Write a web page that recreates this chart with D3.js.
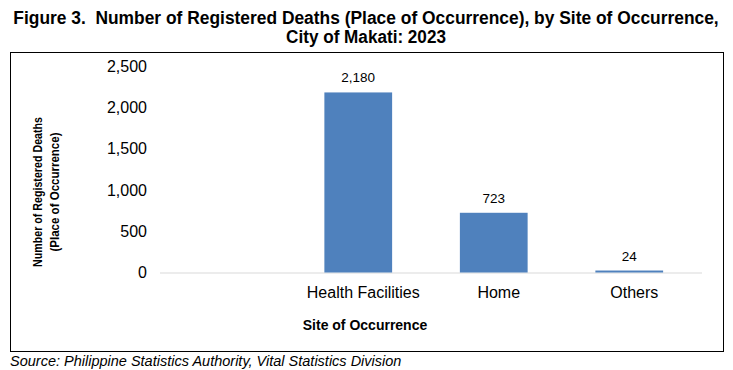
<!DOCTYPE html>
<html>
<head>
<meta charset="utf-8">
<script src="https://cdn.jsdelivr.net/npm/d3@7"></script>
<style>
    body { margin: 0; background: #fff; }
    svg { display: block; font-family: "Liberation Sans", Arial, sans-serif; }
    text { white-space: pre; }
</style>
</head>
<body>
<div id="chart"></div>
<script>
// DATA //
// first slot is an empty category, the original chart leaves it blank
const categories = ["", "Health Facilities", "Home", "Others"]
const deaths = [null, 2180, 723, 24]
const yTicks = [0, 500, 1000, 1500, 2000, 2500]

const titleLines = [
    "Figure 3.  Number of Registered Deaths (Place of Occurrence), by Site of Occurrence,",
    "City of Makati: 2023"
]
const yTitleLines = ["Number of Registered Deaths", "(Place of Occurrence)"]
const xTitle = "Site of Occurrence"
const sourceNote = "Source: Philippine Statistics Authority, Vital Statistics Division"

// Set dimensions
let dimensions = {
    width: 733,
    height: 370,
    plot: { left: 155, right: 697, top: 66, bottom: 272.5 },
}

const svg = d3.select("#chart")
    .append("svg")
    .attr("width", dimensions.width)
    .attr("height", dimensions.height)

// Scales
const xScale = d3.scaleBand()
    .domain(categories.map((d, i) => i))
    .range([dimensions.plot.left, dimensions.plot.right])
    .paddingInner(0.5)
    .paddingOuter(0.25)

const yScale = d3.scaleLinear()
    .domain([0, 2500])
    .range([dimensions.plot.bottom, dimensions.plot.top])

// squeeze a text horizontally so it reads like a narrow font
function squeeze(sel, targetWidth, cx, y) {
    const natural = sel.node().getComputedTextLength()
    const sx = Math.min(1, targetWidth / natural)
    sel.attr("x", 0).attr("y", 0)
        .attr("transform", `translate(${cx}, ${y}) scale(${sx}, 1)`)
}

// Title
const titleLengths = [706, 160]
svg.selectAll("text.title")
    .data(titleLines)
    .join("text")
    .attr("class", "title")
    .attr("text-anchor", "middle")
    .attr("font-weight", "bold")
    .attr("font-size", 19)
    .text(d => d)
    .each(function(d, i) {
        squeeze(d3.select(this), titleLengths[i], 366, 24 + i * 19)
    })

// chart frame
svg.append("rect")
    .attr("x", 10.5)
    .attr("y", 52.5)
    .attr("width", 713)
    .attr("height", 299)
    .attr("fill", "none")
    .attr("stroke", "#000")
    .attr("stroke-width", 1)

// Y axis (labels only, no line)
const yAxisGenerator = d3.axisLeft(yScale)
    .tickValues(yTicks)
    .tickSize(0)
    .tickPadding(0)
    .tickFormat(d3.format(","))

const yAxis = svg.append("g")
    .attr("transform", `translate(147, 0)`)
    .call(yAxisGenerator)
yAxis.select(".domain").remove()
yAxis.selectAll("text")
    .attr("font-size", 16)
    .attr("font-family", "'Liberation Sans', Arial, sans-serif")
    .attr("fill", "#000")

// baseline
svg.append("line")
    .attr("x1", 160)
    .attr("x2", 702)
    .attr("y1", yScale(0) + 0.5)
    .attr("y2", yScale(0) + 0.5)
    .attr("stroke", "#d9d9d9")
    .attr("stroke-width", 1)

// bars
const barData = deaths.map((v, i) => ({ i, v })).filter(d => d.v != null)

svg.selectAll("rect.bar")
    .data(barData)
    .join("rect")
    .attr("class", "bar")
    .attr("x", d => xScale(d.i))
    .attr("width", xScale.bandwidth())
    .attr("y", d => yScale(d.v))
    .attr("height", d => yScale(0) - yScale(d.v))
    .attr("fill", "#4f81bd")

// value labels
svg.selectAll("text.value")
    .data(barData)
    .join("text")
    .attr("class", "value")
    .attr("x", d => xScale(d.i) + xScale.bandwidth() / 2)
    .attr("y", d => yScale(d.v) - 10)
    .attr("text-anchor", "middle")
    .attr("font-size", 13.5)
    .attr("fill", "#000")
    .text(d => d3.format(",")(d.v))

// X axis (labels only)
const xAxisGenerator = d3.axisBottom(xScale)
    .tickSize(0)
    .tickPadding(0)
    .tickFormat(i => categories[i])

const xAxis = svg.append("g")
    .attr("transform", `translate(5, ${yScale(0) + 14})`)
    .call(xAxisGenerator)
xAxis.select(".domain").remove()
xAxis.selectAll("text")
    .attr("font-size", 16)
    .attr("font-family", "'Liberation Sans', Arial, sans-serif")
    .attr("fill", "#000")

// axis titles
const yTitleLengths = [150, 119]
svg.selectAll("text.ytitle")
    .data(yTitleLines)
    .join("text")
    .attr("class", "ytitle")
    .attr("transform", (d, i) => `translate(${42 + i * 17}, 192) rotate(-90)`)
    .attr("text-anchor", "middle")
    .attr("font-weight", "bold")
    .attr("font-size", 13)
    .attr("textLength", (d, i) => yTitleLengths[i])
    .attr("lengthAdjust", "spacingAndGlyphs")
    .text(d => d)

svg.append("text")
    .attr("x", 365)
    .attr("y", 330)
    .attr("text-anchor", "middle")
    .attr("font-weight", "bold")
    .attr("font-size", 14)
    .text(xTitle)

// source
svg.append("text")
    .attr("x", 10)
    .attr("y", 366)
    .attr("font-style", "italic")
    .attr("font-size", 14.5)
    .text(sourceNote)
</script>
</body>
</html>
